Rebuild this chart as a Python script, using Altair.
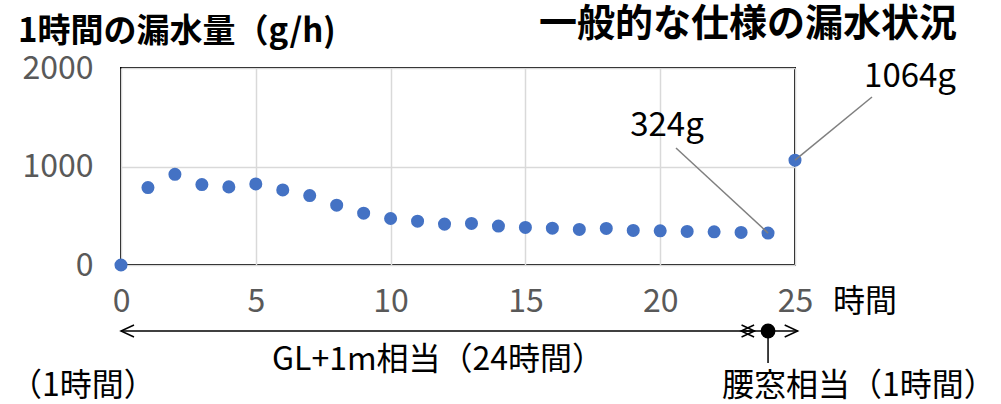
import altair as alt
import pandas as pd

# hourly leakage (g/h) for hours 0..25
hours = list(range(26))
leak = [0, 786, 921, 817, 793, 823, 762, 705, 607, 526, 472, 445, 415,
        422, 395, 381, 374, 361, 371, 351, 347, 341, 337, 331, 324, 1064]

x_ticks = [0, 5, 10, 15, 20, 25]
y_ticks = [0, 1000, 2000]

title_text = "一般的な仕様の漏水状況"
y_title_text = "1時間の漏水量（g/h)"
x_title_text = "時間"
span_main_text = "GL+1m相当（24時間）"
first_hour_text = "（1時間）"
window_text = "腰窓相当（1時間）"

FONT = "Noto Sans CJK JP"
GRAY = "#595959"
BLUE = "#4472C4"

pts = pd.DataFrame({"hour": hours, "leak": leak})

xscale = alt.Scale(domain=[0, 25], nice=False)
yscale = alt.Scale(domain=[0, 2000], nice=False)

X = alt.X("hour:Q", scale=xscale,
          axis=alt.Axis(values=x_ticks, title=None, grid=True, ticks=False,
                        domain=False, labelFont=FONT, labelFontSize=32,
                        labelColor=GRAY, labelPadding=21, labelFlush=False,
                        format="d"))
Y = alt.Y("leak:Q", scale=yscale,
          axis=alt.Axis(values=y_ticks, title=None, grid=True, ticks=False,
                        domain=False, labelFont=FONT, labelFontSize=32,
                        labelColor=GRAY, labelPadding=28, labelFlush=False,
                        format="d"))

points = alt.Chart(pts).mark_circle(size=170, color=BLUE, opacity=1).encode(x=X, y=Y)

# callout labels for the last two hours
def callout(hour, lx, ly, ex, ey):
    base = alt.Chart(pts).transform_filter(alt.datum.hour == hour)
    line = base.mark_rule(color="#7f7f7f", strokeWidth=1.5).encode(
        x=alt.X("hour:Q", scale=xscale), y=alt.Y("leak:Q", scale=yscale),
        x2=alt.value(ex), y2=alt.value(ey))
    label = base.transform_calculate(label="datum.leak + 'g'").mark_text(
        font=FONT, fontSize=33, color="black", align="center",
        baseline="middle").encode(x=alt.value(lx), y=alt.value(ly), text="label:N")
    return line + label

c24 = callout(24, 546, 58, 555, 80)
c25 = callout(25, 789, 9, 751, 29)

one = pd.DataFrame({"k": [0]})

def text(t, x, y, size, weight="normal", align="left", color="black"):
    return alt.Chart(one).mark_text(
        text=t, font=FONT, fontSize=size, fontWeight=weight, align=align,
        baseline="middle", color=color).encode(x=alt.value(x), y=alt.value(y))

# bottom annotation: spans along the time axis
ARROW_Y = 263
def span(h0, h1):
    return alt.Chart(pd.DataFrame({"a": [h0], "b": [h1]})).mark_rule(
        color="black", strokeWidth=1.5).encode(
        x=alt.X("a:Q", scale=xscale), x2="b:Q", y=alt.value(ARROW_Y))

def head(h, left):
    shape = "M1.3,-0.6L0,0L1.3,0.6" if left else "M-1.3,-0.6L0,0L-1.3,0.6"
    return alt.Chart(pd.DataFrame({"a": [h]})).mark_point(
        shape=shape, size=400, filled=False, stroke="black", strokeWidth=1.5,
        opacity=1).encode(x=alt.X("a:Q", scale=xscale), y=alt.value(ARROW_Y))

dot = alt.Chart(pd.DataFrame({"a": [24]})).mark_circle(
    size=220, color="black", opacity=1).encode(
    x=alt.X("a:Q", scale=xscale), y=alt.value(ARROW_Y))
stem = alt.Chart(pd.DataFrame({"a": [24]})).mark_rule(
    color="black", strokeWidth=1.5).encode(
    x=alt.X("a:Q", scale=xscale), y=alt.value(ARROW_Y), y2=alt.value(295))

layers = [
    points, c24, c25,
    span(0, 23.5), head(0, True), head(23.5, False),
    span(23.0, 25.1), head(23.0, True), head(25.1, False),
    dot, stem,
    text(title_text, 836, -43, 38, weight="bold", align="right"),
    text(y_title_text, -103, -36, 33, weight="bold"),
    text(x_title_text, 712, 234, 32),
    text(span_main_text, 317, 292, 32, align="center"),
    text(first_hour_text, -111, 318, 32),
    text(window_text, 601, 318, 32),
]

chart = alt.layer(*layers).properties(
    width=674, height=197,
    padding={"left": 121, "top": 68, "right": 206, "bottom": 139},
    autosize=alt.AutoSizeParams(type="none"),
    background="white",
).configure_view(stroke="black", strokeWidth=2).configure_axis(
    gridColor="#d9d9d9", gridWidth=1.5)

chart.save("out.html", embed_options={"renderer": "svg", "actions": False})
